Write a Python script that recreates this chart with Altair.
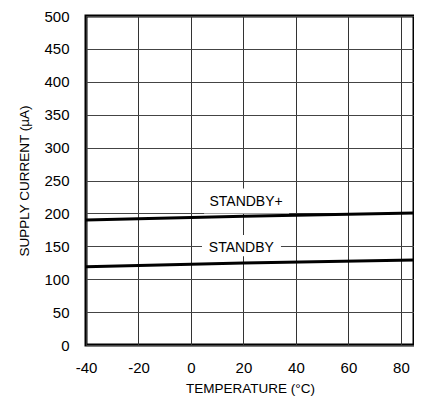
import altair as alt
import pandas as pd

FONT = "Liberation Sans"

# data
temp_plus = [-40, 20, 85]
cur_plus = [190, 195.5, 200.5]
temp_std = [-40, 20, 85]
cur_std = [119, 124.5, 129]

label_text = ["STANDBY+", "STANDBY"]
label_x = [21, 19.2]
label_y = [217, 147]
box_x1 = [5, 4.2]
box_x2 = [37.4, 34.3]
box_y1 = [200, 135]
box_y2 = [238, 167]

x_ticks = [-40, -20, 0, 20, 40, 60, 80]
y_ticks = [0, 50, 100, 150, 200, 250, 300, 350, 400, 450, 500]

lines = pd.DataFrame({
    "t": temp_plus + temp_std,
    "i": cur_plus + cur_std,
    "s": ["STANDBY+"] * len(temp_plus) + ["STANDBY"] * len(temp_std),
})
labels = pd.DataFrame({
    "text": label_text, "x": label_x, "y": label_y,
    "x1": box_x1, "x2": box_x2, "y1": box_y1, "y2": box_y2,
})

xs = alt.Scale(domain=[-40, 85], nice=False, zero=False)
ys = alt.Scale(domain=[0, 500], nice=False)

LBL = "datum.value < 0 ? '-' + abs(datum.value) : '' + datum.value"

xax = alt.Axis(values=x_ticks, title="TEMPERATURE (°C)", ticks=False, domain=False,
               labelPadding=15, titlePadding=6, labelFontSize=15, titleFontSize=13.5,
               labelFont=FONT, titleFont=FONT, labelColor="#000", titleColor="#000",
               labelOverlap=False, labelFlush=False, labelExpr=LBL,
               titleFontWeight="normal", gridColor="#333", gridWidth=1, gridOpacity=1)
yax = alt.Axis(values=y_ticks, title="SUPPLY CURRENT (µA)", ticks=False, domain=False,
               labelPadding=17, titlePadding=12, labelFontSize=15, titleFontSize=13.5,
               labelFont=FONT, titleFont=FONT, labelColor="#000", titleColor="#000",
               labelOverlap=False, labelFlush=False, labelExpr=LBL,
               titleFontWeight="normal", gridColor="#444", gridWidth=1, gridOpacity=1)

base_lines = alt.Chart(lines).mark_line(color="black", strokeWidth=3, clip=True).encode(
    x=alt.X("t:Q", scale=xs, axis=xax),
    y=alt.Y("i:Q", scale=ys, axis=yax),
    detail="s:N",
)

boxes = alt.Chart(labels).mark_rect(color="white", opacity=1).encode(
    x=alt.X("x1:Q", scale=xs, axis=xax), x2="x2:Q",
    y=alt.Y("y1:Q", scale=ys, axis=yax), y2="y2:Q",
)

texts = alt.Chart(labels).mark_text(font=FONT, fontSize=14, color="black",
                                    align="center", baseline="middle").encode(
    x=alt.X("x:Q", scale=xs, axis=xax),
    y=alt.Y("y:Q", scale=ys, axis=yax),
    text="text:N",
)

chart = alt.layer(base_lines, boxes, texts).properties(
    width=328, height=329,
    autosize=alt.AutoSizeParams(type="none"),
    padding={"left": 78, "top": 8, "right": 0, "bottom": 51},
    background="white",
).configure_view(stroke="black", strokeWidth=3)

chart.save("out.html", embed_options={"renderer": "svg", "actions": False})
